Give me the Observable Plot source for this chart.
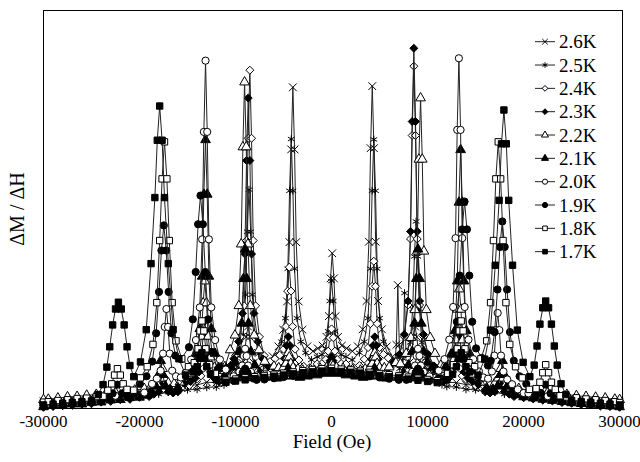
<!DOCTYPE html>
<html><head><meta charset="utf-8">
<script src="https://cdn.jsdelivr.net/npm/d3@7"></script>
<script src="https://cdn.jsdelivr.net/npm/@observablehq/plot@0.6"></script>
<style>
body{margin:0;background:#fff;}
#wrap{width:640px;height:462px;}
svg text{font-family:"Liberation Serif","Times New Roman",serif !important;}
</style></head><body><div id="wrap"></div>
<script>
const xTicks = [-30000,-20000,-10000,0,10000,20000,30000];
const labels = ["2.6K","2.5K","2.4K","2.3K","2.2K","2.1K","2.0K","1.9K","1.8K","1.7K"];

const s26 = [[-30000,1.8],[-29000,2.2],[-28000,2.0],[-27000,2.6],[-26000,2.4],[-25000,3.0],[-24000,2.9],[-23000,3.6],[-22000,3.5],[-21000,4.2],[-20000,4.1],[-19000,4.8],[-18000,4.7],[-17000,5.4],[-16000,5.3],[-15000,6.0],[-14000,5.9],[-13000,6.6],[-12000,6.5],[-11500,7.0],
[-10800,9.1],[-10200,9.6],[-9700,10.3],[-9300,11.5],[-9050,14],[-8875,18],[-8700,20.6],[-8525,18],[-8350,14],[-8100,11.5],[-7700,10.3],[-7200,9.6],[-6600,9.6],
[-6130,13.1],[-5530,15.6],[-5030,19.8],[-4630,26.9],[-4380,41.8],[-4205,65.1],[-4030,80.7],[-3855,65.1],[-3680,41.8],[-3430,26.9],[-3030,19.8],[-2530,15.6],[-1930,14.4],
[-1430,15.1],[-930,15.8],[-530,18],[-280,23.2],[-105,32.7],[70,39],[245,32.7],[420,23.2],[670,18],[1070,15.8],[1570,15.1],[2170,14.4],
[2740,15.6],[3240,19.9],[3640,27],[3890,41.9],[4065,65.4],[4240,81],[4415,65.4],[4590,41.9],[4840,27],[5240,19.9],[5740,15.6],[6340,13],
[6600,12],[6750,16],[6900,31],[7050,16],[7200,12],[7700,10.8],[8100,11.5],[8350,14],[8525,18],[8700,20.6],[8875,18],[9050,14],[9300,11.5],[9700,10.3],[10200,9.6],[10800,9.1],
[11600,7.0],[12000,6.6],[13000,6.5],[14000,6.0],[15000,5.9],[16000,5.4],[17000,5.3],[18000,4.8],[19000,4.7],[20000,4.2],[21000,4.1],[22000,3.6],[23000,3.5],[24000,3.0],[25000,2.9],[26000,2.5],[27000,2.5],[28000,2.1],[29000,2.1],[30000,1.7]];

const s25 = [[-30000,0.6],[-29000,0.9],[-28000,1.0],[-27000,1.3],[-26000,1.3],[-25000,1.7],[-24000,1.8],[-23000,2.3],[-22000,2.4],[-21000,2.9],[-20000,3.0],[-19000,3.5],[-18000,3.6],[-17000,4.1],[-16000,4.2],[-15000,4.7],[-14000,4.8],[-13000,5.3],[-12000,5.4],[-11200,5.9],
[-10700,9.2],[-10100,10.8],[-9600,13.7],[-9200,18.5],[-8950,28.6],[-8775,44.4],[-8600,55],[-8425,44.4],[-8250,28.6],[-8000,18.5],[-7600,13.7],[-7100,10.8],
[-6300,11.2],[-5700,13.2],[-5200,16.8],[-4800,22.7],[-4550,35.1],[-4375,54.7],[-4200,67.7],[-4025,54.7],[-3850,35.1],[-3600,22.7],[-3200,16.8],[-2700,14],[-2100,12.2],
[-1500,13],[-1000,13.5],[-600,15],[-350,19.4],[-175,27],[0,32],[175,27],[350,19.4],[600,15],[1000,13.5],[1500,13],[2150,12.2],
[2900,14],[3400,16.8],[3800,22.7],[4050,35.1],[4225,54.7],[4400,67.6],[4575,54.7],[4750,35.1],[5000,22.7],[5400,16.8],[5900,13.2],[6500,11],
[7100,10],[7450,12.5],[7600,29],[7750,13.5],[8200,16.6],[8450,25],[8625,38.2],[8800,47],[8975,38.2],[9150,25],[9400,16.6],[9800,12.6],[10300,10.2],[10900,8.8],
[11500,6.0],[12000,5.5],[13000,5.4],[14000,4.8],[15000,4.7],[16000,4.2],[17000,4.1],[18000,3.6],[19000,3.5],[20000,3.0],[21000,2.9],[22000,2.4],[23000,2.3],[24000,1.8],[25000,1.7],[26000,1.3],[27000,1.3],[28000,0.9],[29000,0.9],[30000,0.5]];

const s24 = [[-30000,1.3],[-29500,1.6],[-28500,1.9],[-27500,2.0],[-26500,2.4],[-25500,2.5],[-24500,2.9],[-23500,3.0],[-22500,3.4],[-21500,3.7],[-20500,4.1],[-19500,4.3],[-18500,4.6],[-17500,4.9],[-16500,5.3],[-15500,5.5],[-14800,5.8],
[-14500,6.8],[-14000,7.4],[-13600,8.2],[-13350,10.1],[-13175,13],[-13000,15],[-12825,13],[-12650,10.1],[-12400,8.2],[-12000,7.4],[-11500,7.2],[-11000,7.3],
[-10610,10.6],[-10010,13.3],[-9510,18],[-9110,25.8],[-8860,42.2],[-8685,67.9],[-8510,85],[-8335,67.9],[-8160,42.2],[-7910,25.8],[-7510,18],[-7010,13.3],[-6410,11.8],
[-5900,12.5],[-5400,13.4],[-5000,14.9],[-4750,20.6],[-4575,29.5],[-4400,35.5],[-4225,29.5],[-4050,20.6],[-3800,14.9],[-3400,12.2],[-2900,10.6],[-2300,10.2],
[-1500,11.2],[-1000,11.3],[-600,12.3],[-350,14.4],[-175,17.8],[0,20],[175,17.8],[350,14.4],[600,12.3],[1000,11.3],[1500,11.2],[2300,10.3],
[2900,10.8],[3400,12.4],[3800,15.3],[4050,21.3],[4225,30.7],[4400,37],[4575,30.7],[4750,21.3],[5000,15.3],[5400,13.6],[5900,12.7],[6470,11.8],
[7070,13.4],[7570,18.1],[7970,26],[8220,42.6],[8395,68.6],[8570,86],[8745,68.6],[8920,42.6],[9170,26],[9570,18.1],[10070,13.4],[10670,10.5],
[11000,7.3],[11500,7.1],[12000,7.4],[12400,8.2],[12650,10.1],[12825,13],[13000,15],[13175,13],[13350,10.1],[13600,8.2],[14000,7.3],[14500,6.8],
[15000,5.8],[15500,5.5],[16500,5.2],[17500,5.0],[18500,4.5],[19500,4.3],[20500,3.9],[21500,3.7],[22500,3.3],[23500,3.1],[24500,2.7],[25500,2.5],[26500,2.1],[27500,2.0],[28500,1.7],[29500,1.6],[30000,1.3]];

const s23 = [[-30000,0.3],[-29000,0.5],[-28000,0.7],[-27000,0.8],[-26000,1.1],[-25000,1.2],[-24000,1.6],[-23000,1.8],[-22000,2.2],[-21000,2.3],[-20000,2.8],[-19000,3.0],
[-18500,3.6],[-18000,4.2],[-17700,5.8],[-17500,8],[-17300,5.8],[-17000,4.2],[-16500,3.9],[-16000,4.2],
[-15300,6.2],[-14700,6.8],[-14200,7.6],[-13800,9.2],[-13550,12.8],[-13375,18.3],[-13200,22],[-13025,18.3],[-12850,12.8],[-12600,9.2],[-12200,7.6],[-11700,6.8],[-11100,7.4],
[-10780,10],[-10180,12.5],[-9680,16.8],[-9280,23.9],[-9030,38.8],[-8855,62.3],[-8680,78],[-8505,62.3],[-8330,38.8],[-8080,23.9],[-7680,16.8],[-7180,12.5],[-6580,10.5],
[-6000,10.2],[-5500,10.3],[-5100,10.3],[-4850,12.4],[-4675,15.8],[-4500,18],[-4325,15.8],[-4150,12.4],[-3900,10.3],[-3500,9.3],[-3000,8.7],[-2400,8.6],
[-1500,9.1],[-800,9.5],[-400,10.6],[-150,12],[0,13],[150,12],[400,10.6],[800,9.5],[1500,9.1],[2400,8.6],
[3000,8.7],[3500,9.3],[3900,10.3],[4150,12.4],[4325,15.8],[4500,18],[4675,15.8],[4850,12.4],[5100,10.3],[5500,10.3],[6000,10.4],[6470,11.6],
[7070,13.6],[7570,18.6],[7970,27],[8220,44.5],[8395,72.1],[8570,90.5],[8745,72.1],[8920,44.5],[9170,27],[9570,18.6],[10070,13.6],[10670,10.7],
[11100,7.6],[11700,6.8],[12200,7.6],[12600,9.2],[12850,12.8],[13025,18.3],[13200,22],[13375,18.3],[13550,12.8],[13800,9.2],[14200,7.6],[14700,6.8],[15300,6.0],
[16000,4.2],[16500,3.9],[17000,4.2],[17300,5.8],[17500,8],[17700,5.8],[18000,4.2],[18500,3.6],
[19000,3.0],[20000,2.7],[21000,2.4],[22000,2.1],[23000,1.9],[24000,1.5],[25000,1.3],[26000,1.0],[27000,0.9],[28000,0.6],[29000,0.5],[30000,0.3]];

const s22 = [[-30000,2.2],[-29500,2.3],[-28500,2.6],[-27500,2.9],[-26500,3.0],[-25500,3.3],[-24500,3.5],[-23500,3.8],[-22500,4.0],[-21500,4.4],[-20500,4.6],[-19500,5.0],
[-18800,5.6],[-18200,6.2],[-17850,7.6],[-17600,10],[-17350,7.6],[-17000,6.4],[-16400,6.2],[-15800,6.6],
[-15300,7.9],[-14700,8.8],[-14200,10.3],[-13800,12.9],[-13550,18.1],[-13375,26.5],[-13200,32],[-13025,26.5],[-12850,18.1],[-12600,12.9],[-12200,10.3],[-11700,9.5],[-11100,10.5],
[-10560,14.7],[-10060,18.4],[-9660,25.8],[-9410,41.3],[-9235,65.7],[-9060,82],[-8885,65.7],[-8710,41.3],[-8460,25.8],[-8060,18.4],[-7560,14.7],[-6960,11.8],
[-6000,10.6],[-5500,10.2],[-5000,10.3],[-4750,11.3],[-4600,12.9],[-4500,14],[-4400,12.9],[-4250,11.3],[-4000,10.3],[-3500,9.9],[-3000,9.6],[-2200,9.8],
[-1200,10.1],[-500,10.3],[-150,10.7],[0,11],[150,10.7],[500,10.3],[1200,10.1],[2200,9.8],
[3000,9.6],[3500,9.9],[4000,10.3],[4250,11.3],[4400,12.9],[4500,14],[4600,12.9],[4750,11.3],[5000,10.3],[5500,10.2],[6000,10.4],[6700,11.5],
[7170,11.2],[7770,13.8],[8270,17.8],[8670,24.8],[8920,39.5],[9095,62.6],[9270,78],[9445,62.6],[9620,39.5],[9870,24.8],[10270,17.8],[10770,13.8],[11370,10.8],
[11800,9.7],[12300,9.9],[12700,12.3],[12950,17.2],[13125,24.9],[13300,30],[13475,24.9],[13650,17.2],[13900,12.3],[14300,9.9],[14800,8.6],[15400,7.6],
[16000,6.6],[16400,6.2],[17000,6.4],[17350,7.6],[17600,10],[17850,7.6],[18200,6.2],[18800,5.6],
[19500,5.0],[20500,4.6],[21500,4.3],[22500,4.0],[23500,3.7],[24500,3.5],[25500,3.2],[26500,3.0],[27500,2.8],[28500,2.6],[29500,2.3],[30000,2.2]];

const s21 = [[-30000,0.4],[-29000,0.7],[-28000,0.7],[-27000,1.1],[-26000,1.1],[-25000,1.5],[-24000,1.6],[-23000,2.1],[-22000,2.2],[-21000,2.7],[-20000,2.8],[-19200,3.3],
[-18800,4.3],[-18300,5.6],[-18000,8.5],[-17800,12],[-17600,8.5],[-17300,5.6],[-16800,4.8],[-16000,5.2],
[-15225,7.9],[-14625,10.1],[-14125,13.8],[-13725,20],[-13475,33.2],[-13300,53.8],[-13125,67.5],[-12950,53.8],[-12775,33.2],[-12525,20],[-12125,13.8],[-11625,10.8],[-11000,10],
[-10500,10.5],[-10000,11.6],[-9600,14.3],[-9350,21.4],[-9175,32.6],[-9000,40],[-8825,32.6],[-8650,21.4],[-8400,14.3],[-8000,10.9],[-7500,8.9],[-6900,7.8],
[-5700,7.6],[-5000,8.1],[-4700,9],[-4500,10],[-4300,9],[-4000,8.1],[-3300,7.8],[-2500,8.1],[-1500,8.4],[-500,8.8],[500,8.8],[1500,8.4],[2500,8.1],
[3300,7.8],[4000,8.1],[4300,9],[4500,10],[4700,9],[5000,8.1],[5700,7.6],
[6900,7.8],[7500,8.9],[8000,10.9],[8400,14.3],[8650,21.4],[8825,32.6],[9000,40],[9175,32.6],[9350,21.4],[9600,14.3],[10000,11.6],[10500,10.3],[11000,9.6],
[11940,10.7],[12440,13.6],[12840,19.5],[13090,32],[13265,51.8],[13440,65],[13615,51.8],[13790,32],[14040,19.5],[14440,13.6],[14940,9.6],[15540,7.6],
[16200,5.0],[16800,4.8],[17300,5.6],[17600,8.5],[17800,12],[18000,8.5],[18300,5.6],[18800,4.3],
[19200,3.4],[20000,2.9],[21000,2.6],[22000,2.3],[23000,2.0],[24000,1.7],[25000,1.4],[26000,1.2],[27000,1.0],[28000,0.8],[29000,0.6],[30000,0.4]];

const s20 = [[-30000,1.2],[-29500,1.3],[-28500,1.6],[-27500,1.8],[-26500,2.1],[-25500,2.3],[-24500,2.6],[-23500,2.9],[-22500,3.2],[-21500,3.4],[-20500,3.8],[-19500,4.0],
[-18700,6.2],[-18200,7.5],[-17800,9.5],[-17550,13.8],[-17375,20.5],[-17200,25],[-17025,20.5],[-16850,13.8],[-16600,9.5],[-16200,8.1],[-15700,7.8],[-15200,9],
[-14625,12.3],[-14125,17.2],[-13725,25.4],[-13475,42.5],[-13300,69.5],[-13125,87.4],[-12950,69.5],[-12775,42.5],[-12525,25.4],[-12125,17.2],[-11625,12.3],[-11025,9.8],
[-10200,8.1],[-9600,9.2],[-9300,10.8],[-9150,13.2],[-9000,15],[-8850,13.2],[-8700,10.8],[-8400,9.2],[-7800,8.3],
[-7000,7.7],[-6000,8.0],[-5000,8.3],[-4000,8.6],[-3000,8.9],[-2000,9.2],[-1000,9.5],[0,9.7],[1000,9.4],[2000,9.1],[3000,8.8],[4000,8.5],[5000,8.2],[6000,7.9],[7000,7.6],
[7800,8.3],[8400,9.2],[8700,10.8],[8850,13.2],[9000,15],[9150,13.2],[9300,10.8],[9600,9.2],[10200,8.1],
[11160,9.5],[11760,12.4],[12260,17.3],[12660,25.5],[12910,42.8],[13085,70],[13260,88],[13435,70],[13610,42.8],[13860,25.5],[14260,17.3],[14760,12.4],[15360,9.3],
[15800,7.8],[16300,7.5],[16700,9.3],[16950,13.3],[17125,19.7],[17300,24],[17475,19.7],[17650,13.3],[17900,9.3],[18300,7.3],[18800,6.1],[19400,4.8],
[20000,3.9],[20500,3.8],[21500,3.4],[22500,3.1],[23500,2.9],[24500,2.6],[25500,2.3],[26500,2.0],[27500,1.8],[28500,1.6],[29500,1.3],[30000,1.2]];

const s19 = [[-30000,0.8],[-29000,1.0],[-28000,1.2],[-27000,1.4],[-26000,1.6],[-25000,1.8],[-24000,2.1],
[-23300,2.6],[-22800,3.8],[-22300,6],[-21800,3.8],[-21300,3.2],[-20500,3.8],
[-19970,6.2],[-19270,8.1],[-18670,11.8],[-18270,18.9],[-17970,29.3],[-17720,39.7],[-17470,46],[-17220,39.7],[-16970,29.3],[-16670,18.9],[-16270,13.3],[-15670,12.4],
[-14850,15.4],[-14450,22.4],[-14150,34.3],[-13900,46.3],[-13650,53.5],[-13400,46.3],[-13150,34.3],[-12850,22.4],[-12450,14.2],[-11850,9.9],[-11150,7.9],
[-10200,7.0],[-9500,7.8],[-9250,9],[-9000,10],[-8750,9],[-8500,7.8],[-7800,7.2],
[-7000,7.3],[-6000,7.6],[-5000,7.9],[-4000,8.2],[-3000,8.5],[-2000,8.7],[-1000,9.0],[0,9.2],[1000,9.0],[2000,8.7],[3000,8.4],[4000,8.1],[5000,7.8],[6000,7.5],[7000,7.2],
[7800,7.2],[8500,7.8],[8750,9],[9000,10],[9250,9],[9500,7.8],[10200,7.0],
[11350,7.6],[12050,9.7],[12650,13.9],[13050,21.8],[13350,33.4],[13600,45],[13850,52],[14100,45],[14350,33.4],[14650,21.8],[15050,15.1],[15650,12.7],
[16280,10.8],[16580,12],[16980,19.2],[17280,29.9],[17530,40.6],[17780,47],[18030,40.6],[18280,29.9],[18580,19.2],[18980,12],[19580,8.1],[20280,6.2],
[21300,3.3],[21800,3.9],[22300,6],[22800,3.8],[23300,2.6],
[24000,2.0],[25000,1.8],[26000,1.6],[27000,1.3],[28000,1.2],[29000,0.9],[30000,0.7]];

const s18 = [[-30000,1.6],[-29500,1.7],[-28500,2.0],[-27500,2.2],[-26500,2.5],[-25500,2.6],[-24500,3.0],[-23800,3.1],
[-23300,4.6],[-22900,6.2],[-22600,8.4],[-22300,10],[-22000,8.4],[-21700,6.2],[-21300,4.8],[-20600,4.6],
[-19900,7.7],[-19200,10.5],[-18600,16.1],[-18200,26.6],[-17900,42.2],[-17650,57.7],[-17400,67],[-17150,57.7],[-16900,42.2],[-16600,26.6],[-16200,17],[-15600,12.5],
[-14900,10.5],[-14300,11.5],[-13900,15],[-13700,19.5],[-13500,22],[-13300,19.5],[-13100,15],[-12700,11],[-12100,8.8],
[-11000,7.1],[-10000,7.4],[-9000,7.7],[-8000,8.0],[-7000,8.3],[-6000,8.6],[-5000,8.9],[-4000,9.2],[-3000,9.5],[-2000,9.8],[-1000,10.0],[0,10.1],[1000,9.9],[2000,9.7],[3000,9.4],[4000,9.1],[5000,8.8],[6000,8.5],[7000,8.2],[8000,7.9],[9000,7.6],[10000,7.3],[11000,7.0],
[12100,8.8],[12700,11],[13100,15],[13300,19.5],[13500,22],[13700,19.5],[13900,15],[14300,11.5],[14900,10.5],
[15560,12.5],[16160,17],[16560,26.6],[16860,42.2],[17110,57.7],[17360,67],[17610,57.7],[17860,42.2],[18160,26.6],[18560,16.1],[19160,10.5],[19860,7.7],
[20600,4.8],[21300,5],[21700,6.6],[22000,9],[22300,11],[22600,9],[22900,6.6],[23300,4.8],
[23800,3.2],[24500,2.9],[25500,2.7],[26500,2.4],[27500,2.2],[28500,2.0],[29500,1.7],[30000,1.5]];

const s17 = [[-30000,0.9],[-29000,1.1],[-28000,1.3],[-27000,1.5],[-26000,1.7],[-25000,1.9],
[-24300,3.5],[-23800,6],[-23400,10.4],[-23100,15.5],[-22800,21],[-22500,25],[-22200,26.7],[-21900,25],[-21600,21],[-21300,15.5],[-21000,10.8],[-20600,8],
[-19900,11.7],[-19300,19.8],[-18800,36.4],[-18400,53],[-18150,67.4],[-17900,76],[-17650,67.4],[-17400,53],[-17000,36.4],[-16500,19.8],[-15900,12.5],[-15200,8.4],
[-14400,9.2],[-14000,10.5],[-13750,12.6],[-13500,14],[-13250,12.6],[-13000,10.5],[-12600,8.6],[-12000,7.2],
[-11000,6.6],[-10000,6.9],[-9000,7.2],[-8000,7.5],[-7000,7.8],[-6000,8.1],[-5000,8.4],[-4000,8.7],[-3000,9.0],[-2000,9.2],[-1000,9.4],[0,9.5],[1000,9.3],[2000,9.1],[3000,8.9],[4000,8.6],[5000,8.3],[6000,8.0],[7000,7.7],[8000,7.4],[9000,7.1],[10000,6.8],[11000,6.5],
[12000,7.2],[12600,8.6],[13000,10.5],[13250,12.6],[13500,14],[13750,12.6],[14000,10.5],[14400,9.2],[15250,8.4],
[15950,12.4],[16550,19.7],[17050,36],[17450,52.3],[17700,66.5],[17950,75],[18200,66.5],[18450,52.3],[18850,36],[19350,19.7],[19950,11.6],
[20650,8],[21100,10.9],[21400,15.7],[21700,21.2],[22000,25.3],[22300,27],[22600,25.3],[22900,21.2],[23200,15.7],[23500,10.9],[23900,6.2],[24400,3.5],
[25000,2.0],[26000,1.7],[27000,1.5],[28000,1.3],[29000,1.1],[30000,0.9]];

const seriesData = [s26, s25, s24, s23, s22, s21, s20, s19, s18, s17];
const symbols = ["times","asterisk","diamond2","diamond2","triangle","triangle","circle","circle","square","square"];
const fills = ["none","none","white","black","white","black","white","black","white","black"];

const series = labels.map((label, i) => ({label, data: seriesData[i], symbol: symbols[i], fill: fills[i]}));

const marks = [Plot.frame({stroke: "black", strokeWidth: 1})];
for (const s of series) {
  marks.push(Plot.line(s.data, {x: d => d[0], y: d => d[1], stroke: "#222", strokeWidth: 1}));
  marks.push(Plot.dot(s.data, {x: d => d[0], y: d => d[1], symbol: s.symbol, r: 3.6, fill: s.fill, stroke: "black", strokeWidth: 1}));
}
marks.push(Plot.axisX({ticks: xTicks, tickSize: 0, tickPadding: 6, tickFormat: d => String(d), fontSize: 17, label: null}));

const svg = Plot.plot({
  width: 640, height: 462,
  marginTop: 10, marginBottom: 54, marginLeft: 43, marginRight: 18,
  x: {domain: [-30000, 30300]},
  y: {domain: [0, 100], axis: null},
  style: {fontFamily: "'Liberation Serif', serif", color: "black", background: "white", overflow: "visible"},
  marks
});
document.getElementById("wrap").appendChild(svg);

const root = d3.select(svg);
const serif = "'Liberation Serif', 'Times New Roman', serif";
root.append("text").attr("x", 332).attr("y", 441).attr("text-anchor", "middle").attr("dominant-baseline", "central")
  .style("font-size", "19px").attr("fill", "black").text("Field (Oe)");
root.append("text").attr("transform", "translate(17,209) rotate(-90)").attr("text-anchor", "middle").attr("dominant-baseline", "central")
  .style("font-size", "20px").attr("fill", "black").text("ΔM / ΔH");

const symMap = {times: d3.symbolTimes, asterisk: d3.symbolAsterisk, diamond2: d3.symbolDiamond2, triangle: d3.symbolTriangle, circle: d3.symbolCircle, square: d3.symbolSquare};
const lg = root.append("g").attr("transform", "translate(535,41.7)");
series.forEach((s, i) => {
  const g = lg.append("g").attr("transform", `translate(0,${i * 23.33})`);
  g.append("line").attr("x1", 0).attr("x2", 20).attr("y1", 0).attr("y2", 0).attr("stroke", "#222").attr("stroke-width", 1);
  g.append("path").attr("transform", "translate(10,0)").attr("d", d3.symbol(symMap[s.symbol], Math.PI * 2.6 * 2.6)())
    .attr("fill", s.fill).attr("stroke", "black").attr("stroke-width", 1);
  g.append("text").attr("x", 24).attr("y", 0).attr("text-anchor", "start").attr("dominant-baseline", "central")
    .style("font-size", "19px").attr("fill", "black").text(s.label);
});
root.selectAll("text").style("font-family", serif);
</script></body></html>
